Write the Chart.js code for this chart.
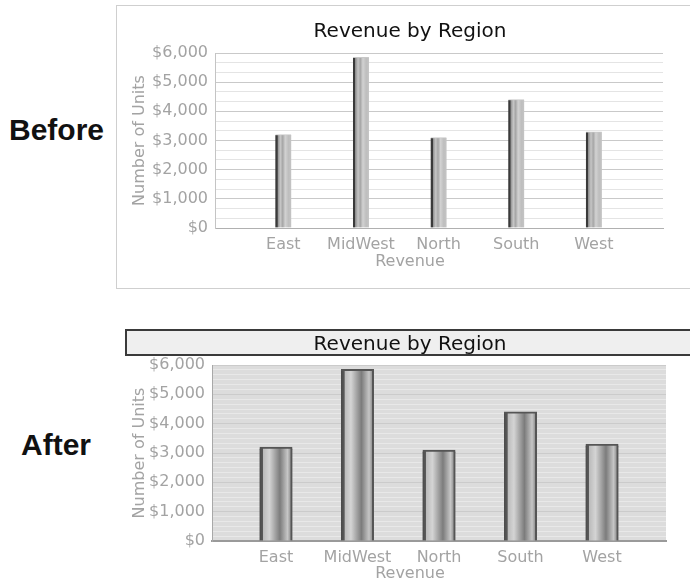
<!DOCTYPE html>
<html>
<head>
<meta charset="utf-8">
<script src="https://cdn.jsdelivr.net/npm/chart.js@4.4.1/dist/chart.umd.min.js"></script>
<style>
  html, body { margin: 0; padding: 0; background: #fff; }
  body { width: 690px; height: 580px; position: relative; overflow: hidden; }
  .tag { position: absolute; font-family: "Liberation Sans", Arial, sans-serif; font-weight: bold; font-size: 30px; color: #111; }
  .frame { position: absolute; box-sizing: border-box; }
  .wrap { position: absolute; }
</style>
</head>
<body>
  <div class="frame" style="left:116px;top:5px;width:600px;height:284px;border:1px solid #cfcfcf;"></div>
  <div class="frame" style="left:125px;top:329px;width:600px;height:27px;border:2px solid #3a3a3a;background:#efefef;"></div>
  <div class="tag" style="left:9px;top:113px;">Before</div>
  <div class="tag" style="left:21px;top:428px;">After</div>
  <div class="wrap" style="left:130px;top:5px;width:560px;height:283px;"><canvas id="before"></canvas></div>
  <div class="wrap" style="left:130px;top:325px;width:560px;height:257px;"><canvas id="after"></canvas></div>
<script>
const regions = ["East", "MidWest", "North", "South", "West"];
const revenue = [3200, 5850, 3100, 4400, 3300];
const yTickValues = [0, 1000, 2000, 3000, 4000, 5000, 6000];

const FONT = "'DejaVu Sans', Verdana, sans-serif";
const GREY = "#a3a3a3";

function barGradient(stops, width) {
  return function (ctx) {
    const chart = ctx.chart;
    const x = chart.scales && chart.scales.x;
    if (!x || ctx.type !== "data" || !isFinite(x.getPixelForValue(ctx.dataIndex))) return "#aaa";
    const cx = x.getPixelForValue(ctx.dataIndex);
    const g = chart.ctx.createLinearGradient(cx - width / 2, 0, cx + width / 2, 0);
    stops.forEach(s => g.addColorStop(s[0], s[1]));
    return g;
  };
}

const plotBg = {
  id: "plotBg",
  beforeDraw(chart, args, opts) {
    if (!opts.color) return;
    const a = chart.chartArea;
    chart.ctx.save();
    chart.ctx.fillStyle = opts.color;
    chart.ctx.fillRect(a.left, a.top, a.right - a.left, a.bottom - a.top);
    chart.ctx.restore();
  }
};

function makeChart(id, s) {
  return new Chart(document.getElementById(id), {
    type: "bar",
    data: {
      datasets: [{
        data: revenue.map((v, i) => ({ x: i, y: v })),
        backgroundColor: barGradient(s.stops, s.barWidth),
        borderColor: s.barBorder,
        borderWidth: s.barBorderWidth,
        borderSkipped: false,
        barThickness: s.barWidth
      }]
    },
    plugins: [plotBg],
    options: {
      responsive: true,
      maintainAspectRatio: false,
      animation: false,
      layout: { padding: { left: 0, right: 0, top: 0, bottom: s.bottomPad } },
      plugins: {
        legend: { display: false },
        tooltip: { enabled: false },
        plotBg: { color: s.bg },
        title: {
          display: true, text: "Revenue by Region", color: "#111",
          font: { family: FONT, size: 20, weight: "normal" }, padding: s.titlePad
        },
        subtitle: {
          display: true, text: "Revenue", position: "bottom", color: GREY,
          font: { family: FONT, size: 16, weight: "normal", lineHeight: 1 }, padding: 0
        }
      },
      scales: {
        x: {
          type: "linear",
          offset: false,
          min: s.xMin, max: s.xMax,
          afterFit(scale) { scale.height = s.xHeight; },
          afterBuildTicks(scale) { scale.ticks = regions.map((r, i) => ({ value: i })); },
          ticks: {
            autoSkip: false, maxRotation: 0, padding: 1, color: GREY,
            font: { family: FONT, size: 16, lineHeight: 1 },
            callback: v => regions[v]
          },
          grid: { display: false, offset: false },
          border: { display: true, color: s.xAxisColor, width: s.xAxisWidth }
        },
        y: {
          min: 0, max: 6000,
          afterFit(scale) { scale.width = s.yWidth; },
          afterBuildTicks(scale) {
            const t = [];
            yTickValues.forEach((v, i) => {
              t.push({ value: v, major: true });
              if (i < yTickValues.length - 1) {
                const step = (yTickValues[i + 1] - v) / s.minor;
                for (let k = 1; k < s.minor; k++) t.push({ value: v + k * step, major: false });
              }
            });
            scale.ticks = t;
          },
          ticks: {
            autoSkip: false, padding: 7, color: GREY,
            font: { family: FONT, size: 16 },
            callback: (v, i, ticks) => ticks[i].major ? "$" + v.toLocaleString("en-US") : ""
          },
          grid: {
            drawTicks: false,
            color: c => (c.tick && c.tick.major) ? s.majorGrid : s.minorGrid,
            lineWidth: 1
          },
          border: { display: true, color: s.yAxisColor, width: 1 },
          title: {
            display: true, text: "Number of Units", color: GREY,
            font: { family: FONT, size: 16 }, padding: 0
          }
        },
        // empty right-hand spacer so the plot stops short of the canvas edge
        spacer: {
          type: "linear", position: "right", display: true,
          afterFit(scale) { scale.width = s.rightGap; },
          ticks: { display: false },
          grid: { display: false },
          border: { display: false }
        }
      }
    }
  });
}

makeChart("before", {
  bottomPad: 18, rightGap: 27,
  titlePad: { top: 15, bottom: 9 },
  xMin: -0.88, xMax: 4.89, xHeight: 26, yWidth: 85,
  minor: 3, majorGrid: "#c9c9c9", minorGrid: "#e4e4e4",
  xAxisColor: "#b0b0b0", xAxisWidth: 1, yAxisColor: "#c4c4c4",
  bg: null, barWidth: 16, barBorder: "#c8c8c8", barBorderWidth: { top: 1, left: 0, right: 0, bottom: 0 },
  stops: [[0, "#3a3a3a"], [0.13, "#3a3a3a"], [0.15, "#8e8e8e"], [0.32, "#c6c6c6"], [0.46, "#a6a6a6"],
          [0.62, "#d2d2d2"], [0.82, "#bebebe"], [1, "#c4c4c4"]]
});

makeChart("after", {
  bottomPad: 0, rightGap: 24,
  titlePad: { top: 8, bottom: 8 },
  xMin: -0.785, xMax: 4.785, xHeight: 25, yWidth: 82,
  minor: 6, majorGrid: "#cbcbcb", minorGrid: "#e8e8e8",
  xAxisColor: "#9a9a9a", xAxisWidth: 2, yAxisColor: "#a8a8a8",
  bg: "#dcdcdc", barWidth: 33, barBorder: "#555", barBorderWidth: { top: 2, left: 0, right: 0, bottom: 0 },
  stops: [[0, "#4a4a4a"], [0.1, "#5a5a5a"], [0.12, "#bcbcbc"], [0.3, "#d4d4d4"], [0.62, "#7c7c7c"],
          [0.85, "#c6c6c6"], [0.93, "#9a9a9a"], [0.95, "#555"], [1, "#555"]]
});
</script>
</body>
</html>
